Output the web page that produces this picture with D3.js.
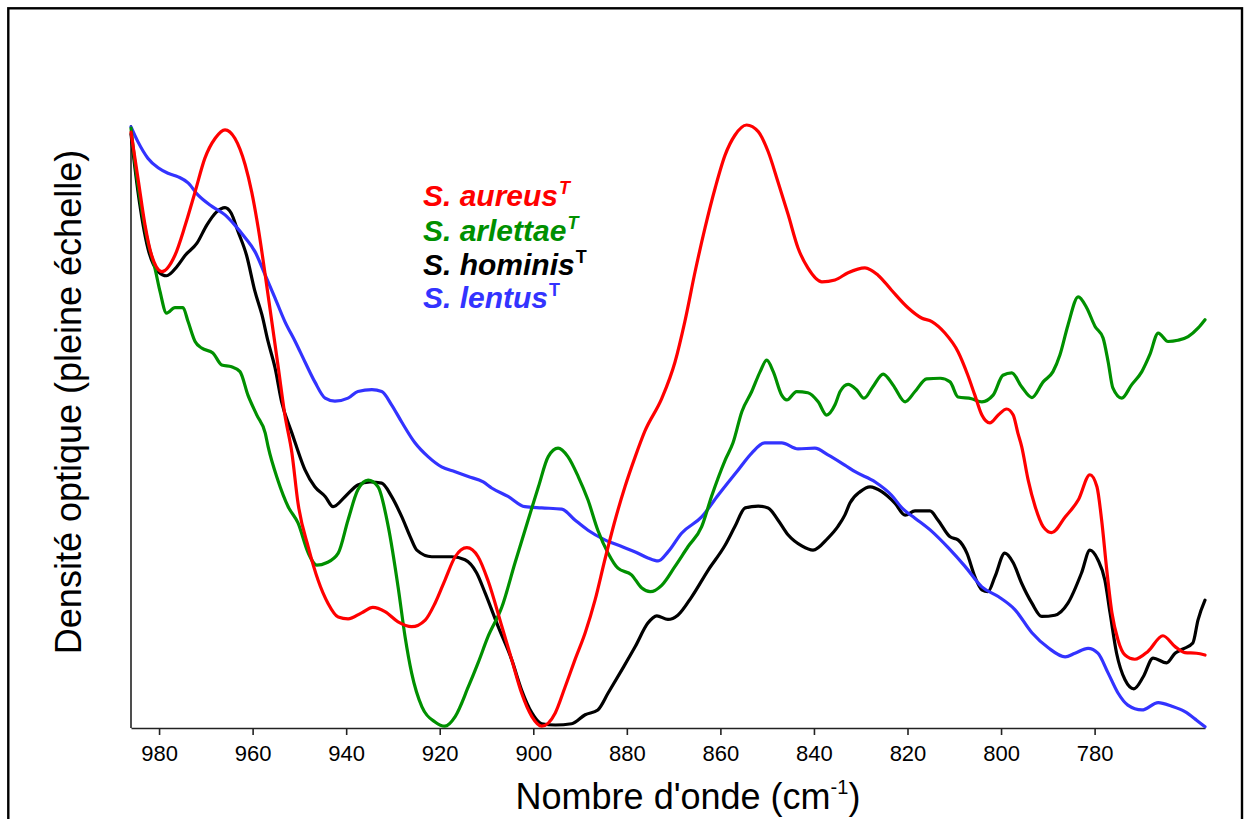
<!DOCTYPE html>
<html><head><meta charset="utf-8">
<script src="https://cdn.jsdelivr.net/npm/d3@7"></script>
<style>body{margin:0;background:#fff} svg{display:block}</style>
</head><body>
<svg id="c" width="1248" height="819"></svg>
<script>
// Tick values of the wavenumber axis (cm-1)
const xTicks = [980, 960, 940, 920, 900, 880, 860, 840, 820, 800, 780];

// S. aureus
const wnAureus = [986.0,984.4,983.0,981.6,979.4,976.6,974.4,972.3,970.2,968.0,
965.9,963.8,961.6,960.2,958.8,957.3,955.9,954.5,953.1,951.6,
950.3,948.1,946.0,943.9,941.7,939.6,936.7,934.3,931.7,928.9,
926.0,923.1,921.0,918.9,916.7,914.2,911.8,909.7,906.7,904.6,
902.5,900.3,898.2,895.3,893.2,891.1,888.9,886.8,884.7,882.5,
880.4,878.2,876.1,872.5,869.7,867.6,865.4,863.3,861.1,859.0,
856.9,854.4,851.9,849.8,847.7,845.5,843.4,841.3,838.3,835.5,
832.7,829.1,826.3,823.4,819.9,817.0,814.8,812.0,809.2,807.1,
805.6,804.1,802.4,800.6,798.8,797.4,796.4,795.6,794.2,792.7,
791.0,789.2,786.3,783.5,781.0,779.5,778.5,777.4,776.3,775.0,
773.5,771.4,768.6,765.4,762.8,760.7,758.2,756.4];
const odAureus = [98.8,90.6,83.4,78.4,75.7,78.4,83.4,88.9,94.5,97.8,
99.2,97.8,93.4,88.9,82.9,75.1,67.4,59.7,51.9,45.6,
37.3,30.0,24.5,20.7,18.4,18.1,19.1,20.0,19.3,17.6,
16.8,17.9,20.7,24.5,28.4,29.9,28.4,24.5,16.8,11.3,
5.8,1.9,0.3,2.5,6.8,11.3,15.8,21.2,27.9,34.5,
40.0,45.0,49.3,54.7,60.7,67.4,75.7,82.9,89.6,95.0,
98.3,100,98.9,95.6,90.6,85.1,79.6,76.3,74.0,74.3,
75.5,76.3,75.1,72.6,69.7,68.0,67.4,65.5,62.4,58.5,
55.2,51.9,50.6,51.9,52.9,51.9,48.9,46.7,41.1,36.7,
33.4,32.4,35.0,37.8,42.0,40.0,34.5,26.2,19.1,14.6,
12.1,11.4,12.7,15.3,13.5,12.5,12.4,12.1];

// S. arlettae
const wnArlettae = [986.0,985.1,984.1,982.4,980.9,979.8,978.4,976.6,974.9,973.8,
972.3,970.9,968.5,966.6,964.5,962.7,961.0,959.1,957.3,956.7,
954.6,952.4,950.3,948.1,946.3,944.2,941.7,939.6,937.5,935.3,
933.2,931.0,928.9,927.4,926.0,923.8,921.0,918.9,916.7,913.9,
911.8,909.7,906.7,903.9,901.1,898.9,896.8,894.7,892.6,890.4,
888.3,886.2,884.0,881.9,879.0,876.8,875.0,872.5,869.7,866.9,
864.0,861.9,859.0,857.3,855.4,853.3,851.5,850.1,848.7,846.9,
845.8,843.7,841.3,839.1,837.3,835.5,834.4,832.7,830.9,829.3,
827.4,825.2,823.1,820.5,818.4,815.9,813.0,810.9,809.2,806.3,
804.1,801.7,799.6,797.7,795.6,793.4,791.0,788.9,787.4,785.7,
783.5,781.7,779.9,778.2,777.1,776.1,774.2,772.1,769.9,768.2,
766.4,764.3,762.2,760.0,757.9,756.4];
const odArlettae = [99.5,93.4,87.9,80.6,76.3,72.4,68.8,69.7,69.7,67.4,
64.1,63.0,62.2,60.2,59.9,59.1,55.2,51.9,48.9,46.7,
41.1,36.7,34.0,29.0,27.0,27.4,29.0,34.5,39.5,41.1,
40.0,33.4,23.4,15.1,9.1,3.5,1.0,0.3,1.9,6.8,
10.8,15.1,20.1,27.4,34.5,40.0,45.0,46.4,45.0,41.7,
37.8,32.8,29.0,26.5,25.4,23.2,22.6,23.7,26.8,30.1,
33.4,38.4,44.4,47.3,52.5,55.8,59.1,61.0,59.1,55.2,
54.4,55.8,55.6,54.1,51.9,53.6,55.8,57.0,56.1,54.7,
56.6,58.7,56.9,54.1,55.8,57.9,58.0,57.4,54.9,54.6,
54.1,55.2,58.5,58.9,56.6,54.8,57.4,59.1,61.9,66.8,
71.5,69.7,66.6,64.7,60.7,56.4,54.7,56.9,59.1,61.9,
65.5,64.1,64.3,64.9,66.3,67.7];

// S. hominis
const wnHominis = [986.0,984.5,982.4,980.2,978.4,976.2,974.4,971.9,969.8,967.7,
965.9,964.6,963.1,961.3,959.5,958.0,956.7,955.2,953.8,951.6,
950.9,948.8,946.7,944.5,942.8,940.2,937.5,934.9,932.4,930.3,
928.1,926.3,924.9,921.7,917.4,914.6,912.1,910.3,907.5,904.6,
902.5,900.3,898.2,895.3,891.8,888.9,886.2,884.0,881.1,878.2,
875.5,873.6,871.2,869.1,866.1,862.6,859.0,856.9,854.7,851.9,
849.8,847.7,845.5,842.6,840.2,837.0,834.9,833.4,832.3,830.1,
828.0,825.5,822.7,820.5,818.4,815.2,813.5,810.9,809.2,807.3,
805.6,804.1,802.8,801.3,799.2,797.4,795.6,793.4,791.3,788.5,
785.7,782.8,781.0,779.3,777.8,776.7,775.3,773.5,771.6,769.6,
767.5,764.6,762.8,761.1,759.0,757.9,756.4];
const odHominis = [98.5,88.9,79.6,75.7,75.0,76.5,78.4,80.4,83.4,85.6,
86.3,85.4,82.3,78.4,72.4,68.5,64.1,59.7,54.1,48.9,
47.3,42.8,40.0,38.4,36.7,38.4,40.3,40.8,40.6,38.4,
35.0,31.7,29.5,28.4,28.4,27.9,25.7,22.4,16.8,11.3,
6.3,2.5,0.7,0.5,0.7,2.2,3.0,5.8,9.6,13.5,
17.4,18.6,18.0,18.7,21.8,26.2,30.3,33.4,36.5,36.8,
36.5,34.5,32.0,30.2,29.5,31.5,33.4,35.3,37.3,39.2,
40.0,39.2,37.3,35.3,36.0,36.0,34.5,31.7,31.2,29.0,
25.1,22.9,22.6,25.1,29.0,27.4,24.0,20.7,18.5,18.7,
20.7,25.7,29.5,27.9,24.5,19.1,12.4,8.0,6.5,8.5,
11.6,10.8,12.4,13.1,14.1,17.9,21.2];

// S. lentus
const wnLentus = [986.0,984.5,982.4,980.2,978.1,975.9,973.8,971.7,968.7,965.9,
963.8,961.6,959.5,957.3,955.2,953.1,950.9,948.8,946.7,944.5,
942.4,939.6,937.5,934.5,932.4,930.3,928.1,925.3,922.5,919.6,
916.7,913.9,910.7,908.9,905.4,901.8,898.2,893.9,891.1,888.3,
884.7,881.1,878.2,875.5,873.3,871.2,868.3,864.0,860.5,856.2,
853.3,850.5,846.9,843.4,839.8,837.0,833.4,831.2,826.9,823.4,
821.2,818.4,814.8,811.3,807.7,804.1,800.6,797.0,793.4,789.9,
786.3,784.2,781.4,779.3,777.1,775.0,772.9,769.9,766.4,763.5,
760.7,758.2,756.4];
const odLentus = [99.7,97.2,94.5,92.9,92.0,91.4,90.4,88.4,86.5,85.1,
83.4,81.3,79.0,75.1,71.3,67.4,64.1,60.7,57.4,54.7,
54.2,54.7,55.8,56.1,55.8,53.6,50.7,47.3,45.0,43.3,
42.5,41.7,40.8,39.8,38.4,36.7,36.5,36.3,34.5,32.8,
31.2,30.1,29.2,28.2,27.7,29.2,32.3,35.0,38.6,42.8,
45.6,47.3,47.3,46.3,46.4,45.3,43.6,42.5,40.8,38.6,
36.5,34.8,32.6,29.9,26.8,23.4,21.8,19.6,15.8,13.3,
11.8,12.4,13.2,12.4,9.1,5.8,3.8,3.0,4.2,3.6,
2.7,1.3,0.2];

const seriesNames = ["S. aureus", "S. arlettae", "S. hominis", "S. lentus"];
const seriesColors = ["#ff0000", "#009000", "#000000", "#3333ff"];
const supItalic = [true, true, false, false];

const svg = d3.select("#c");

// outer frame
svg.append("rect").attr("x", 8.3).attr("y", 8.3).attr("width", 1233.7).attr("height", 840)
  .attr("fill", "none").attr("stroke", "#000").attr("stroke-width", 2.4);

const x = d3.scaleLinear().domain([986, 756.4]).range([131, 1205]);
const y = d3.scaleLinear().domain([0, 100]).range([728, 125]);

const font = "'Liberation Sans', Arial, sans-serif";

// x axis
const gx = svg.append("g").attr("transform", "translate(0,728)")
  .call(d3.axisBottom(x).tickValues(xTicks).tickSize(7).tickSizeOuter(0).tickPadding(10).tickFormat(d3.format("d")));
gx.select(".domain").attr("stroke", "#222").attr("stroke-width", 1.6);
gx.selectAll(".tick line").attr("stroke", "#222").attr("stroke-width", 1.6);
gx.selectAll(".tick text").attr("font-family", font).attr("font-size", 22).attr("fill", "#000");

// y axis line
svg.append("line").attr("x1", x(986)).attr("x2", x(986)).attr("y1", y(100)).attr("y2", y(0))
  .attr("stroke", "#222").attr("stroke-width", 1.6);

// axis titles
const xt = svg.append("text").attr("x", 688).attr("y", 809).attr("text-anchor", "middle")
  .attr("font-family", font).attr("font-size", 36).attr("fill", "#000");
xt.append("tspan").text("Nombre d'onde (cm");
xt.append("tspan").attr("font-size", 20).attr("dy", -15).text("-1");
xt.append("tspan").attr("dy", 15).text(")");

svg.append("text").attr("transform", "translate(81,402) rotate(-90)").attr("text-anchor", "middle")
  .attr("font-family", font).attr("font-size", 36).attr("fill", "#000")
  .text("Densité optique (pleine échelle)");

// curves
const line = d3.line().x(d => x(d[0])).y(d => y(d[1])).curve(d3.curveMonotoneX);
const zipS = (a, b) => a.slice(0, Math.min(a.length, b.length)).map((v, i) => [v, b[i]]);
const curves = [
  {w: wnHominis, v: odHominis, c: seriesColors[2]},
  {w: wnLentus, v: odLentus, c: seriesColors[3]},
  {w: wnArlettae, v: odArlettae, c: seriesColors[1]},
  {w: wnAureus, v: odAureus, c: seriesColors[0]}
];
curves.forEach(s => {
  svg.append("path").datum(zipS(s.w, s.v)).attr("d", line)
    .attr("fill", "none").attr("stroke", s.c).attr("stroke-width", 3.2)
    .attr("stroke-linejoin", "round").attr("stroke-linecap", "round");
});

// legend
const legendY = [206, 241, 275, 308];
seriesNames.forEach((n, i) => {
  const t = svg.append("text").attr("x", 423).attr("y", legendY[i])
    .attr("font-family", font).attr("font-size", 30).attr("font-weight", "bold")
    .attr("font-style", "italic").attr("fill", seriesColors[i]);
  t.append("tspan").text(n);
  t.append("tspan").attr("font-size", 18).attr("dy", -12).attr("dx", 1)
    .attr("font-style", supItalic[i] ? "italic" : "normal").text("T");
});
</script>
</body></html>
